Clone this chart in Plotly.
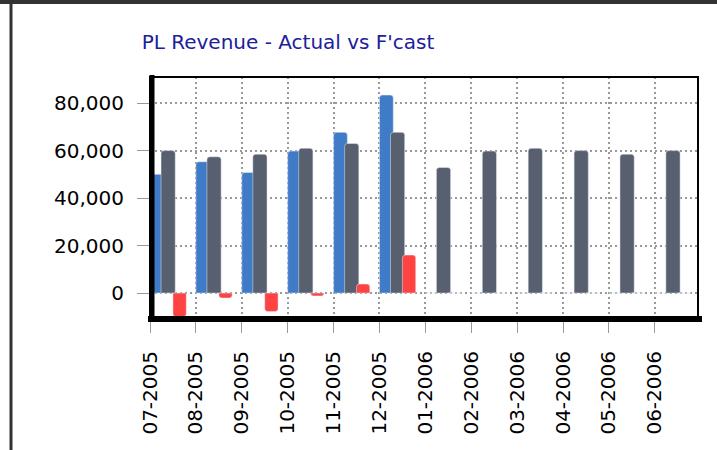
import plotly.graph_objects as go

months = ["07-2005", "08-2005", "09-2005", "10-2005", "11-2005", "12-2005",
          "01-2006", "02-2006", "03-2006", "04-2006", "05-2006", "06-2006"]
actual = [50000, 55300, 50800, 59800, 67700, 83400, 0, 0, 0, 0, 0, 0]
forecast = [60000, 57400, 58500, 61000, 63000, 67700, 52900, 59800, 61000, 60000, 58500, 60000]
variance = [-10000, -2100, -7800, -1200, 3800, 16000, 0, 0, 0, 0, 0, 0]

fig = go.Figure()
fig.add_trace(go.Bar(x=months, y=actual, name="Actual", marker_color="#3f7bc6",
                     offset=0.0, width=0.3, marker_cornerradius=3))
fig.add_trace(go.Bar(x=months, y=forecast, name="F'cast", marker_color="#586070",
                     offset=0.24, width=0.31, marker_cornerradius=3))
fig.add_trace(go.Bar(x=months, y=variance, name="Variance", marker_color="#ff4242",
                     offset=0.5, width=0.29, marker_cornerradius=3))

L, R, T, B = 150, 19, 77, 132
W, H = 717, 450
pw, ph = W - L - R, H - T - B

def px(x):
    return (x - L) / pw

def py(y):
    return (H - B - y) / ph

shapes = [
    # outer frame
    dict(type="line", xref="paper", yref="paper", x0=px(0), x1=px(W), y0=py(2), y1=py(2),
         line=dict(color="#333333", width=4)),
    dict(type="line", xref="paper", yref="paper", x0=px(11), x1=px(11), y0=py(0), y1=py(H),
         line=dict(color="#333333", width=3)),
    # plot border
    dict(type="rect", xref="paper", yref="paper", x0=0, x1=1, y0=0, y1=1,
         line=dict(color="black", width=2)),
    dict(type="line", xref="paper", yref="paper", x0=px(152), x1=px(152), y0=py(75), y1=py(322),
         line=dict(color="black", width=5)),
    dict(type="line", xref="paper", yref="paper", x0=px(148), x1=px(702), y0=py(319), y1=py(319),
         line=dict(color="black", width=6)),
]

fig.update_layout(
    width=W, height=H,
    margin=dict(l=L, r=R, t=T, b=B),
    paper_bgcolor="white", plot_bgcolor="white",
    showlegend=False,
    barmode="overlay",
    title=dict(text="PL Revenue - Actual vs F'cast", x=288 / W, xanchor="center",
               y=1 - 42 / H, yanchor="middle", xref="container", yref="container",
               font=dict(family="DejaVu Sans", size=20, color="#20209a")),
    font=dict(family="DejaVu Sans", size=20, color="black"),
    shapes=shapes,
)
fig.update_xaxes(type="category", range=[0, 11.94], showgrid=True, gridcolor="#999999",
                 griddash="2px,3px", gridwidth=1.5, ticks="outside", ticklen=14,
                 tickcolor="#999999", tickangle=-90, ticklabelstandoff=10,
                 tickfont=dict(family="DejaVu Sans", size=20, color="black"),
                 showline=False, zeroline=False)
fig.update_yaxes(range=[-10500, 91000], tickvals=[0, 20000, 40000, 60000, 80000],
                 tickformat=",d", showgrid=True, gridcolor="#999999", griddash="2px,3px",
                 gridwidth=1.5, ticks="outside", ticklen=12, tickcolor="#999999",
                 ticklabelstandoff=9, tickfont=dict(family="DejaVu Sans", size=20, color="black"),
                 zeroline=False, showline=False)

fig.write_html("out.html", config={"displayModeBar": False},
               post_script="document.body.style.margin='0';document.body.style.overflow='hidden';")
